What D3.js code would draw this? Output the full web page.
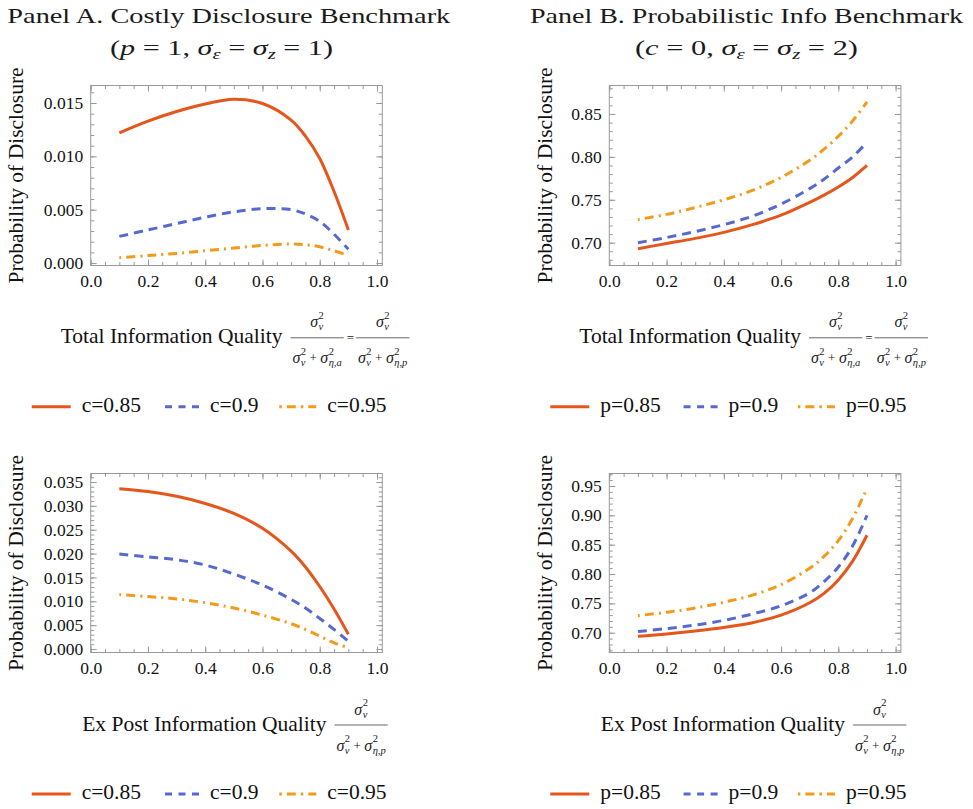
<!DOCTYPE html>
<html>
<head>
<meta charset="utf-8">
<script src="https://cdn.jsdelivr.net/npm/d3@7"></script>
<style>
body { margin: 0; background: #fff; }
svg { font-family: "Liberation Serif", "Times New Roman", serif; }
.tick text { font-family: "Liberation Serif", "Times New Roman", serif; font-size: 17.5px; fill: #111; }
.tick line { stroke: #999; }
.lbl { font-size: 21.5px; fill: #111; }
.mi { font-size: 16px; font-style: italic; fill: #222; }
.scr { font-size: 10.5px; fill: #222; }
.scr-i { font-style: italic; }
.op { font-size: 13px; fill: #222; }
.ttl { font-size: 22px; fill: #1a1a1a; }
</style>
</head>
<body>
<div id="chart"></div>
<script>
const WIDTH = 973;
const HEIGHT = 809;

// x grid shared by every curve
const xs = [0.1, 0.2, 0.3, 0.4, 0.5, 0.6, 0.7, 0.75, 0.8, 0.85, 0.9];

// Panel A, top (total info quality)
const aTopC85 = [0.0122, 0.0133, 0.0142, 0.0149, 0.01535, 0.01495, 0.0134, 0.0119, 0.0098, 0.0067, 0.0031];
const aTopC90 = [0.0025, 0.0031, 0.0037, 0.0043, 0.0048, 0.0051, 0.0050, 0.0046, 0.0039, 0.0027, 0.0013];
const aTopC95 = [0.0005, 0.0007, 0.0009, 0.00115, 0.0014, 0.00165, 0.00178, 0.00172, 0.00153, 0.00115, 0.0007];

// Panel A, bottom (ex post info quality)
const aBotC85 = [0.0336, 0.0330, 0.0320, 0.0305, 0.0284, 0.0253, 0.0205, 0.0172, 0.0131, 0.0084, 0.0031];
const aBotC90 = [0.0199, 0.0193, 0.0187, 0.0176, 0.0157, 0.0134, 0.0104, 0.0086, 0.0064, 0.0041, 0.0016];
const aBotC95 = [0.0114, 0.0110, 0.0105, 0.0097, 0.0086, 0.0071, 0.0053, 0.0041, 0.0027, 0.0013, 0.0003];

// Panel B, top
const bTopP85 = [0.693, 0.699, 0.705, 0.712, 0.721, 0.732, 0.747, 0.7555, 0.765, 0.776, 0.790];
const bTopP90 = [0.700, 0.706, 0.713, 0.721, 0.731, 0.745, 0.763, 0.774, 0.787, 0.800, 0.817];
const bTopP95 = [0.727, 0.733, 0.741, 0.750, 0.761, 0.776, 0.796, 0.809, 0.824, 0.842, 0.864];

// Panel B, bottom
const bBotP85 = [0.694, 0.698, 0.703, 0.709, 0.717, 0.730, 0.751, 0.767, 0.790, 0.822, 0.866];
const bBotP90 = [0.702, 0.707, 0.713, 0.721, 0.732, 0.746, 0.768, 0.787, 0.812, 0.848, 0.900];
const bBotP95 = [0.729, 0.735, 0.742, 0.752, 0.764, 0.782, 0.810, 0.830, 0.857, 0.895, 0.946];

// tick labels
const xTicks = [0, 0.2, 0.4, 0.6, 0.8, 1.0];
const aTopTicks = [0, 0.005, 0.010, 0.015];
const aBotTicks = [0, 0.005, 0.010, 0.015, 0.020, 0.025, 0.030, 0.035];
const bTopTicks = [0.70, 0.75, 0.80, 0.85];
const bBotTicks = [0.70, 0.75, 0.80, 0.85, 0.90, 0.95];

const costLabels = ["c=0.85", "c=0.9", "c=0.95"];
const probLabels = ["p=0.85", "p=0.9", "p=0.95"];

const FRAME_W = 291.6;
const COLORS = ["#e6561b", "#5769cf", "#f39a1a"];
const PLOT_DASH = [null, "9,6", "2,5,9,5"];
const LEGEND_DASH = [null, "7,6.5", "2.5,5,9,5"];
const LEGEND_OFF = [-59, 74.3, 188.6];   // sample start, relative to frame left
const LEGEND_LEN = [39, 34, 37];

const panels = [
    { left: 90.7, top: 85.5, bottom: 265.5, yDomain: [-0.00023, 0.01664], yTicks: aTopTicks, yStep: 0.001, fmt: ".3f",
      series: [aTopC85, aTopC90, aTopC95], labels: costLabels, title: "Total Information Quality", two: true,
      yLabelX: 23.3, titleY: 343.3, legendY: 406.7 },
    { left: 609.3, top: 85.5, bottom: 265.5, yDomain: [0.6734, 0.8832], yTicks: bTopTicks, yStep: 0.01, fmt: ".2f",
      series: [bTopP85, bTopP90, bTopP95], labels: probLabels, title: "Total Information Quality", two: true,
      yLabelX: 551.7, titleY: 343.3, legendY: 406.7 },
    { left: 90.7, top: 473.5, bottom: 652.5, yDomain: [-0.00073, 0.03678], yTicks: aBotTicks, yStep: 0.001, fmt: ".3f",
      series: [aBotC85, aBotC90, aBotC95], labels: costLabels, title: "Ex Post Information Quality", two: false,
      yLabelX: 23.3, titleY: 730.5, legendY: 794 },
    { left: 609.3, top: 473.5, bottom: 652.5, yDomain: [0.6663, 0.9713], yTicks: bBotTicks, yStep: 0.01, fmt: ".2f",
      series: [bBotP85, bBotP90, bBotP95], labels: probLabels, title: "Ex Post Information Quality", two: false,
      yLabelX: 551.7, titleY: 730.5, legendY: 794 }
];

const svg = d3.select("#chart")
    .append("svg")
    .attr("width", WIDTH)
    .attr("height", HEIGHT);

// σ with stacked ^2 and _sub, returns right edge
function sigmaTerm(g, x, base, sub) {
    const s = g.append("text").attr("class", "mi").attr("x", x).attr("y", base).text("σ");
    const w = s.node().getComputedTextLength() + 0.4;
    const sup = g.append("text").attr("class", "scr").attr("x", x + w).attr("y", base - 8.5).text("2");
    const sb = g.append("text").attr("class", "scr scr-i").attr("x", x + w).attr("y", base + 3).text(sub);
    return x + w + Math.max(sup.node().getComputedTextLength(), sb.node().getComputedTextLength());
}

function fraction(g, x0, barY, denSub) {
    const dg = g.append("g");
    let cx = sigmaTerm(dg, 0, 0, "v") + 3.5;
    const plus = dg.append("text").attr("class", "op").attr("x", cx).attr("y", -1).text("+");
    cx += plus.node().getComputedTextLength() + 3.5;
    cx = sigmaTerm(dg, cx, 0, denSub);
    const barW = cx + 4;
    dg.attr("transform", `translate(${x0 + 2},${barY + 25.5})`);

    g.append("line")
        .attr("x1", x0).attr("x2", x0 + barW)
        .attr("y1", barY).attr("y2", barY)
        .attr("stroke", "#666").attr("stroke-width", 1);

    const ng = g.append("g");
    const nw = sigmaTerm(ng, 0, 0, "v");
    ng.attr("transform", `translate(${x0 + (barW - nw) / 2},${barY - 10.5})`);
    return x0 + barW;
}

panels.forEach(p => {
    const g = svg.append("g");
    const x = d3.scaleLinear().domain([0, 1.0185]).range([p.left, p.left + FRAME_W]);
    const y = d3.scaleLinear().domain(p.yDomain).range([p.bottom, p.top]);

    const xMinor = d3.range(0, 1.0001, 0.05);
    const y0 = Math.ceil(p.yDomain[0] / p.yStep - 1e-9);
    const yMinor = d3.range(y0, Math.floor(p.yDomain[1] / p.yStep) + 1).map(k => k * p.yStep);

    const addAxis = (axis, tx, ty) => g.append("g")
        .attr("transform", `translate(${tx},${ty})`)
        .call(axis)
        .call(s => s.select(".domain").remove());

    addAxis(d3.axisBottom(x).tickValues(xMinor).tickSize(-3.5).tickFormat(""), 0, p.bottom);
    addAxis(d3.axisTop(x).tickValues(xMinor).tickSize(-3.5).tickFormat(""), 0, p.top);
    addAxis(d3.axisLeft(y).tickValues(yMinor).tickSize(-3.5).tickFormat(""), p.left, 0);
    addAxis(d3.axisRight(y).tickValues(yMinor).tickSize(-3.5).tickFormat(""), p.left + FRAME_W, 0);

    addAxis(d3.axisBottom(x).tickValues(xTicks).tickSize(-6).tickPadding(9).tickFormat(d3.format(".1f")), 0, p.bottom);
    addAxis(d3.axisTop(x).tickValues(xTicks).tickSize(-6).tickFormat(""), 0, p.top);
    addAxis(d3.axisLeft(y).tickValues(p.yTicks).tickSize(-6).tickPadding(7.5).tickFormat(d3.format(p.fmt)), p.left, 0);
    addAxis(d3.axisRight(y).tickValues(p.yTicks).tickSize(-6).tickFormat(""), p.left + FRAME_W, 0);

    // frame
    g.append("rect")
        .attr("x", p.left).attr("y", p.top)
        .attr("width", FRAME_W).attr("height", p.bottom - p.top)
        .attr("fill", "none").attr("stroke", "#999").attr("stroke-width", 1);

    // curves
    const line = d3.line()
        .x((d, i) => x(xs[i]))
        .y(d => y(d))
        .curve(d3.curveCatmullRom.alpha(0.5));

    p.series.forEach((vals, i) => {
        g.append("path")
            .attr("d", line(vals))
            .attr("fill", "none")
            .attr("stroke", COLORS[i])
            .attr("stroke-width", 3)
            .attr("stroke-dasharray", PLOT_DASH[i]);
    });

    // y label
    g.append("text")
        .attr("class", "lbl")
        .attr("text-anchor", "middle")
        .attr("transform", `translate(${p.yLabelX},${(p.top + p.bottom) / 2}) rotate(-90)`)
        .text("Probability of Disclosure");

    // x title with fractions
    const tg = g.append("g");
    const lab = tg.append("text").attr("class", "lbl").attr("x", 0).attr("y", 0).text(p.title);
    let cx = lab.node().getComputedTextLength() + 8;
    if (p.two) {
        cx = fraction(tg, cx, -5.5, "η,a");
        const eq = tg.append("text").attr("class", "op").attr("x", cx + 3).attr("y", -1.5).text("=");
        cx += 3 + eq.node().getComputedTextLength() + 2;
        cx = fraction(tg, cx, -5.5, "η,p");
    } else {
        cx = fraction(tg, cx, -5.5, "η,p");
    }
    const centerX = p.left + FRAME_W / 2 - 1.5;
    tg.attr("transform", `translate(${centerX - cx / 2},${p.titleY})`);

    // legend
    p.labels.forEach((lbl, i) => {
        const lx = p.left + LEGEND_OFF[i];
        g.append("line")
            .attr("x1", lx).attr("x2", lx + LEGEND_LEN[i])
            .attr("y1", p.legendY).attr("y2", p.legendY)
            .attr("stroke", COLORS[i])
            .attr("stroke-width", 3)
            .attr("stroke-dasharray", LEGEND_DASH[i]);
        g.append("text")
            .attr("class", "lbl")
            .attr("x", lx + LEGEND_LEN[i] + 11)
            .attr("y", p.legendY + 5.3)
            .text(lbl);
    });
});

// column titles
const titles = [
    { x: 7.3, len: 443, text: "Panel A. Costly Disclosure Benchmark", sub: ["p", "1"], sx: 110 },
    { x: 530, len: 433, text: "Panel B. Probabilistic Info Benchmark", sub: ["c", "0"], sx: 635 },
];
const subSigma = ["1", "2"];

titles.forEach((t, k) => {
    svg.append("text")
        .attr("class", "ttl")
        .attr("x", t.x).attr("y", 23.3)
        .attr("textLength", t.len)
        .attr("lengthAdjust", "spacingAndGlyphs")
        .text(t.text);

    const l2 = svg.append("text")
        .attr("class", "ttl")
        .attr("x", t.sx).attr("y", 55)
        .attr("textLength", 223)
        .attr("lengthAdjust", "spacingAndGlyphs");
    l2.append("tspan").text("(");
    l2.append("tspan").attr("font-style", "italic").text(t.sub[0]);
    l2.append("tspan").text(` = ${t.sub[1]}, `);
    l2.append("tspan").attr("font-style", "italic").text("σ");
    l2.append("tspan").attr("font-style", "italic").attr("font-size", "15px").attr("dy", 4).text("ε");
    l2.append("tspan").attr("dy", -4).text(" = ");
    l2.append("tspan").attr("font-style", "italic").text("σ");
    l2.append("tspan").attr("font-style", "italic").attr("font-size", "15px").attr("dy", 4).text("z");
    l2.append("tspan").attr("dy", -4).text(` = ${subSigma[k]})`);
});
</script>
</body>
</html>
